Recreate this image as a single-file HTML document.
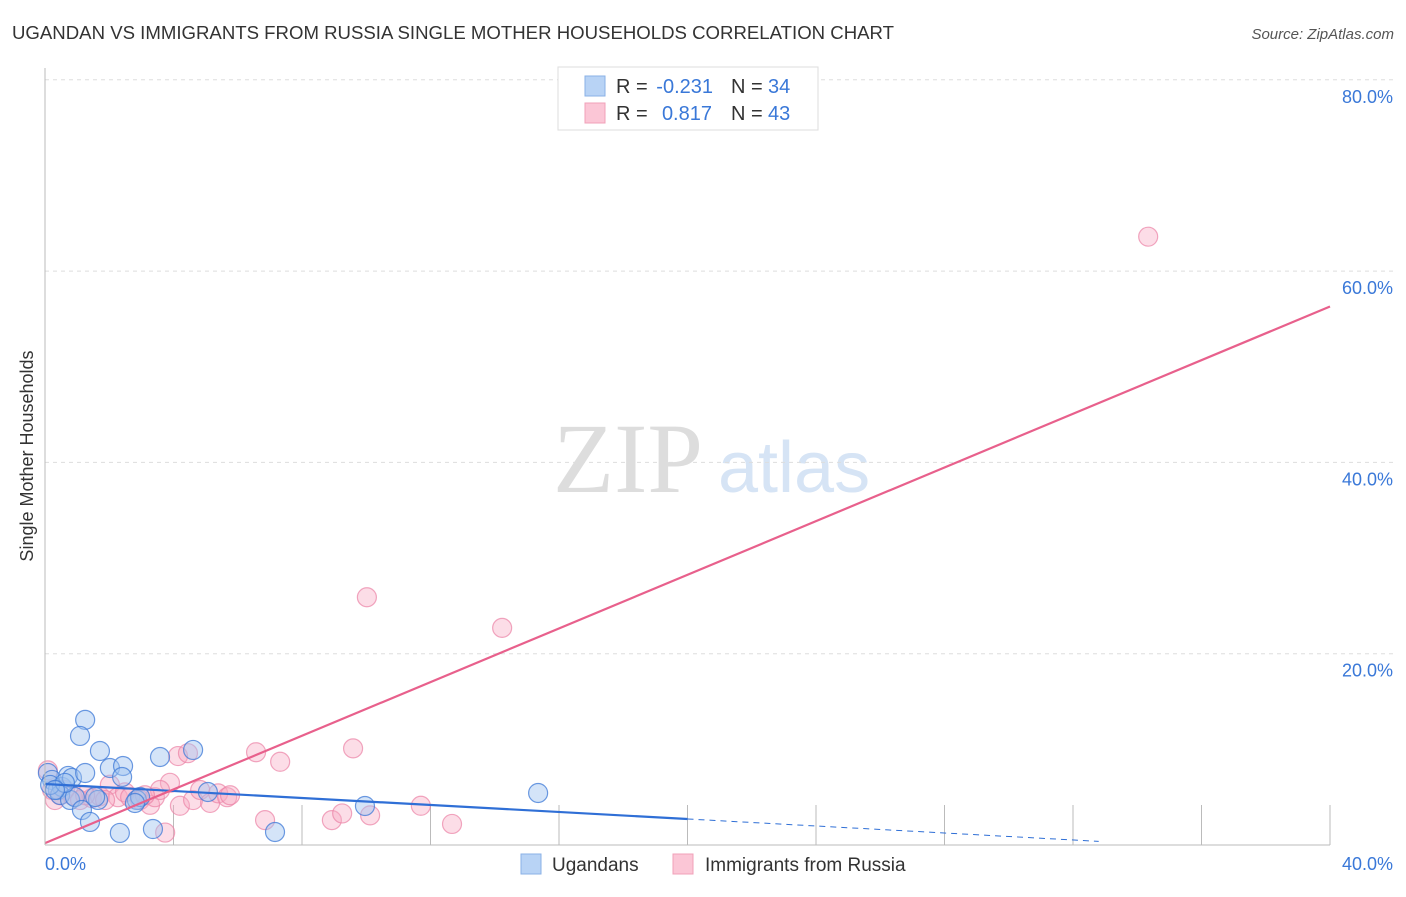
<!DOCTYPE html>
<html><head><meta charset="utf-8"><style>
body{margin:0;background:#fff;font-family:"Liberation Sans",sans-serif}
svg text{font-family:"Liberation Sans",sans-serif}
svg text.serif{font-family:"Liberation Serif",serif}
</style></head><body>
<svg id="c" width="1406" height="892" viewBox="0 0 1406 892">
<text x="12" y="39" font-size="18" fill="#333" textLength="882" lengthAdjust="spacingAndGlyphs">UGANDAN VS IMMIGRANTS FROM RUSSIA SINGLE MOTHER HOUSEHOLDS CORRELATION CHART</text>
<text x="1394" y="39" font-size="15" fill="#555" font-style="italic" text-anchor="end">Source: ZipAtlas.com</text>
<text x="33" y="456" font-size="18" fill="#333" text-anchor="middle" transform="rotate(-90 33 456)">Single Mother Households</text>
<text class="serif" x="553" y="492" font-size="100" fill="#ddd">ZIP</text>
<text x="718" y="492" font-size="72" fill="#d6e4f5">atlas</text>
<g id="grid"></g><g id="pts"></g><g id="lines"></g>
<line x1="45" y1="68" x2="45" y2="845" stroke="#bbb"/>
<line x1="45" y1="845" x2="1330" y2="845" stroke="#bbb"/>
<text x="45" y="870" font-size="18" fill="#3a78d8">0.0%</text>
<text x="1393" y="870" font-size="18" fill="#3a78d8" text-anchor="end">40.0%</text>
<g>
<rect x="558" y="67" width="260" height="63" fill="#fff" stroke="#ddd"/>
<rect x="585" y="76" width="20" height="20" fill="#b8d3f5" stroke="#8ab0e6"/>
<rect x="585" y="103" width="20" height="20" fill="#fbc6d6" stroke="#f0a0b8"/>
<text x="616" y="93" font-size="20" fill="#333">R =</text>
<text x="713" y="93" font-size="20" fill="#3a78d8" text-anchor="end">-0.231</text>
<text x="731" y="93" font-size="20" fill="#333">N =</text>
<text x="768" y="93" font-size="20" fill="#3a78d8">34</text>
<text x="616" y="120" font-size="20" fill="#333">R =</text>
<text x="712" y="120" font-size="20" fill="#3a78d8" text-anchor="end">0.817</text>
<text x="731" y="120" font-size="20" fill="#333">N =</text>
<text x="768" y="120" font-size="20" fill="#3a78d8">43</text>
</g>
<g>
<rect x="521" y="854" width="20" height="20" fill="#b8d3f5" stroke="#8ab0e6"/>
<text x="552" y="871" font-size="19" fill="#333">Ugandans</text>
<rect x="673" y="854" width="20" height="20" fill="#fbc6d6" stroke="#f0a0b8"/>
<text x="705" y="871" font-size="19" fill="#333">Immigrants from Russia</text>
</g>
</svg>
<script>
const yTicks=[20,40,60,80];
const xTicks=[4,8,12,16,20,24,28,32,36,40];
const blueX=[0.09,0.22,0.40,0.53,0.72,0.84,1.25,1.09,1.71,1.25,0.47,0.78,0.93,1.15,1.40,1.65,2.02,2.43,2.40,2.33,2.86,2.96,3.36,3.58,4.61,5.07,7.16,9.96,15.35,0.16,0.62,1.56,2.80,0.31];
const blueY=[7.53,6.8,5.75,6.07,7.22,7.01,13.08,11.4,9.83,7.53,5.23,4.71,5.02,3.66,2.41,4.71,8.05,8.26,7.11,1.26,4.71,5.02,1.67,9.2,9.94,5.54,1.36,4.08,5.44,6.28,6.49,5.02,4.39,5.75];
const pinkX=[34.34,10.02,14.23,9.59,6.57,7.32,4.14,4.45,3.89,0.09,0.22,0.47,0.62,0.84,1.09,1.46,1.71,2.02,2.27,2.49,2.65,2.96,3.27,3.42,3.58,4.2,4.61,4.83,5.14,5.39,5.67,5.76,6.85,8.93,9.25,10.12,11.7,12.67,3.74,0.31,1.25,1.87,3.11];
const pinkY=[63.6,25.9,22.7,10.1,9.7,8.7,9.3,9.6,6.5,7.8,5.75,5.2,5.75,5.2,4.7,4.9,5.1,6.3,5.0,5.5,5.0,4.7,4.2,5.0,5.75,4.1,4.7,5.75,4.4,5.4,5.0,5.2,2.6,2.6,3.3,3.1,4.1,2.2,1.3,4.7,5.2,4.7,5.2];
const blueTrend=[6.38,2.72]; // value at x=0 and x=20
const pinkTrend=[0.2,56.3];  // value at x=0 and x=40
const NS='http://www.w3.org/2000/svg';
const X=v=>45+v/40*1285, Y=v=>845-v*9.565;
function mk(t,a,p){const e=document.createElementNS(NS,t);for(const k in a)e.setAttribute(k,a[k]);p.appendChild(e);return e;}
const grid=document.getElementById('grid');
yTicks.forEach(t=>{
 const l=mk('line',{x1:45,x2:1395,y1:Y(t),y2:Y(t),stroke:'#ddd','stroke-dasharray':'4 4'},grid);
 
 
 const tx=mk('text',{x:1393,y:Y(t)+23,'font-size':18,fill:'#3a78d8','text-anchor':'end'},grid);
 tx.textContent=t.toFixed(1)+'%';
 
 
});
xTicks.forEach(t=>{
 const l=mk('line',{x1:X(t),x2:X(t),y1:805,y2:845,stroke:'#bbb'},grid);
 
 
});
const pts=document.getElementById('pts');
pinkX.forEach((x,i)=>{
 const c=mk('circle',{cx:X(x),cy:Y(pinkY[i]),r:9.5,fill:'rgba(248,170,195,0.4)',stroke:'rgba(235,130,165,0.7)','stroke-width':1.2},pts);
 
 
});
blueX.forEach((x,i)=>{
 const c=mk('circle',{cx:X(x),cy:Y(blueY[i]),r:9.5,fill:'rgba(160,195,240,0.45)',stroke:'rgba(60,120,215,0.75)','stroke-width':1.2},pts);
 
 
});
const lines=document.getElementById('lines');
const bs=(blueTrend[1]-blueTrend[0])/20;
let l1=mk('line',{x1:X(0),y1:Y(blueTrend[0]),x2:X(20),y2:Y(blueTrend[1]),stroke:'#2f6fd6','stroke-width':2.2},lines);


let l2=mk('line',{x1:X(20),y1:Y(blueTrend[1]),x2:X(32.8),y2:Y(blueTrend[0]+bs*32.8),stroke:'#2f6fd6','stroke-width':1,'stroke-dasharray':'6 5'},lines);


let l3=mk('line',{x1:X(0),y1:Y(pinkTrend[0]),x2:X(40),y2:Y(pinkTrend[1]),stroke:'#e8608c','stroke-width':2.2},lines);


</script>
</body></html>
